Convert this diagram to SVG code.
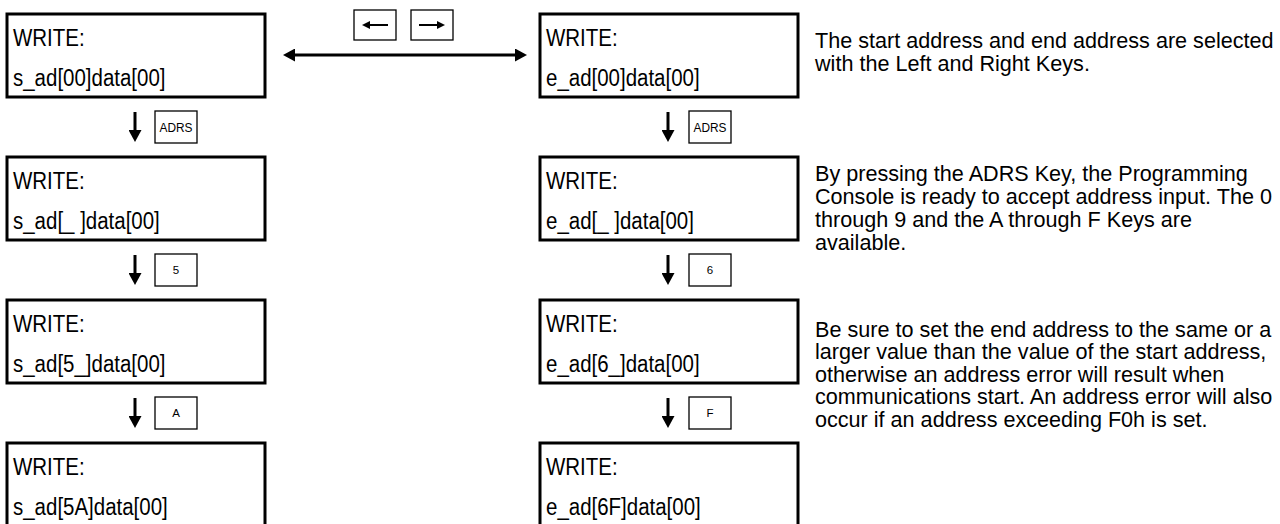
<svg xmlns="http://www.w3.org/2000/svg" width="1280" height="524" viewBox="0 0 1280 524">
<style>
  .lcd{fill:#fff;stroke:#000;stroke-width:3}
  .key{fill:#fff;stroke:#000;stroke-width:1.3}
  .t{font-family:"Liberation Sans",Arial,sans-serif;font-size:23px;fill:#000}
  .k{font-family:"Liberation Sans",Arial,sans-serif;font-size:13.5px;fill:#000;text-anchor:middle}
  .d{font-family:"Liberation Sans",Arial,sans-serif;font-size:11.5px;fill:#000;text-anchor:middle}
  .p{font-family:"Liberation Sans",Arial,sans-serif;font-size:21.6px;fill:#000}
  .ln{stroke:#000;stroke-width:3;fill:none}
  .sl{stroke:#000;stroke-width:2;fill:none}
</style>
<defs>
  <marker id="ah" markerUnits="userSpaceOnUse" markerWidth="13" markerHeight="13" viewBox="0 0 12 13" refX="4" refY="6.5" orient="auto-start-reverse">
    <path d="M0,0 L12,6.5 L0,13 z" fill="#000"/>
  </marker>
  <marker id="sh" markerUnits="userSpaceOnUse" markerWidth="8" markerHeight="8" viewBox="0 0 8 8" refX="3" refY="4" orient="auto-start-reverse">
    <path d="M0,0 L8,4 L0,8 z" fill="#000"/>
  </marker>
</defs>

<g id="s1">
  <rect class="lcd" x="7" y="14" width="258" height="83"/>
  <text class="t" transform="translate(13,46) scale(0.89,1)">WRITE:</text>
  <text class="t" transform="translate(13,86) scale(0.89,1)">s_ad[00]data[00]</text>
</g>
<g id="s2">
  <rect class="lcd" x="7" y="157" width="258" height="83"/>
  <text class="t" transform="translate(13,189) scale(0.89,1)">WRITE:</text>
  <text class="t" transform="translate(13,229) scale(0.89,1)">s_ad[_ ]data[00]</text>
</g>
<g id="s3">
  <rect class="lcd" x="7" y="300" width="258" height="83"/>
  <text class="t" transform="translate(13,332) scale(0.89,1)">WRITE:</text>
  <text class="t" transform="translate(13,372) scale(0.89,1)">s_ad[5_]data[00]</text>
</g>
<g id="s4">
  <rect class="lcd" x="7" y="443" width="258" height="83"/>
  <text class="t" transform="translate(13,475) scale(0.89,1)">WRITE:</text>
  <text class="t" transform="translate(13,515) scale(0.89,1)">s_ad[5A]data[00]</text>
</g>

<g id="e1">
  <rect class="lcd" x="540" y="14" width="258" height="83"/>
  <text class="t" transform="translate(546,46) scale(0.89,1)">WRITE:</text>
  <text class="t" transform="translate(546,86) scale(0.89,1)">e_ad[00]data[00]</text>
</g>
<g id="e2">
  <rect class="lcd" x="540" y="157" width="258" height="83"/>
  <text class="t" transform="translate(546,189) scale(0.89,1)">WRITE:</text>
  <text class="t" transform="translate(546,229) scale(0.89,1)">e_ad[_ ]data[00]</text>
</g>
<g id="e3">
  <rect class="lcd" x="540" y="300" width="258" height="83"/>
  <text class="t" transform="translate(546,332) scale(0.89,1)">WRITE:</text>
  <text class="t" transform="translate(546,372) scale(0.89,1)">e_ad[6_]data[00]</text>
</g>
<g id="e4">
  <rect class="lcd" x="540" y="443" width="258" height="83"/>
  <text class="t" transform="translate(546,475) scale(0.89,1)">WRITE:</text>
  <text class="t" transform="translate(546,515) scale(0.89,1)">e_ad[6F]data[00]</text>
</g>

<g id="keys">
  <g id="k-left">
    <rect class="key" x="354" y="10" width="42" height="30"/>
  </g>
  <g id="k-right">
    <rect class="key" x="411" y="10" width="42" height="30"/>
  </g>
  <g id="k-adrs-s">
    <rect class="key" x="155" y="111" width="42" height="32"/>
    <text class="k" transform="translate(176,132) scale(0.88,1)">ADRS</text>
  </g>
  <g id="k-5">
    <rect class="key" x="155" y="254" width="42" height="32"/>
    <text class="d" x="176" y="274">5</text>
  </g>
  <g id="k-A">
    <rect class="key" x="155" y="397" width="42" height="32"/>
    <text class="d" x="176" y="417">A</text>
  </g>
  <g id="k-adrs-e">
    <rect class="key" x="689" y="111" width="42" height="32"/>
    <text class="k" transform="translate(710,132) scale(0.88,1)">ADRS</text>
  </g>
  <g id="k-6">
    <rect class="key" x="689" y="254" width="42" height="32"/>
    <text class="d" x="710" y="274">6</text>
  </g>
  <g id="k-F">
    <rect class="key" x="689" y="397" width="42" height="32"/>
    <text class="d" x="710" y="417">F</text>
  </g>
</g>

<g id="connectors">
  <line class="sl" x1="388" y1="25" x2="367" y2="25" marker-end="url(#sh)"/>
  <line class="sl" x1="419" y1="25" x2="440" y2="25" marker-end="url(#sh)"/>
  <line class="ln" x1="291" y1="55" x2="519" y2="55" marker-start="url(#ah)" marker-end="url(#ah)"/>
  <line class="ln" x1="135" y1="112" x2="135" y2="134" marker-end="url(#ah)"/>
  <line class="ln" x1="135" y1="255" x2="135" y2="277" marker-end="url(#ah)"/>
  <line class="ln" x1="135" y1="398" x2="135" y2="420" marker-end="url(#ah)"/>
  <line class="ln" x1="668" y1="112" x2="668" y2="134" marker-end="url(#ah)"/>
  <line class="ln" x1="668" y1="255" x2="668" y2="277" marker-end="url(#ah)"/>
  <line class="ln" x1="668" y1="398" x2="668" y2="420" marker-end="url(#ah)"/>
</g>

<g id="notes">
  <text class="p" x="815" y="48">The start address and end address are selected</text>
  <text class="p" x="815" y="71">with the Left and Right Keys.</text>
  <text class="p" x="815" y="181">By pressing the ADRS Key, the Programming</text>
  <text class="p" x="815" y="204">Console is ready to accept address input. The 0</text>
  <text class="p" x="815" y="227">through 9 and the A through F Keys are</text>
  <text class="p" x="815" y="250">available.</text>
  <text class="p" x="815" y="337">Be sure to set the end address to the same or a</text>
  <text class="p" x="815" y="359">larger value than the value of the start address,</text>
  <text class="p" x="815" y="382">otherwise an address error will result when</text>
  <text class="p" x="815" y="404">communications start. An address error will also</text>
  <text class="p" x="815" y="427">occur if an address exceeding F0h is set.</text>
</g>
</svg>
